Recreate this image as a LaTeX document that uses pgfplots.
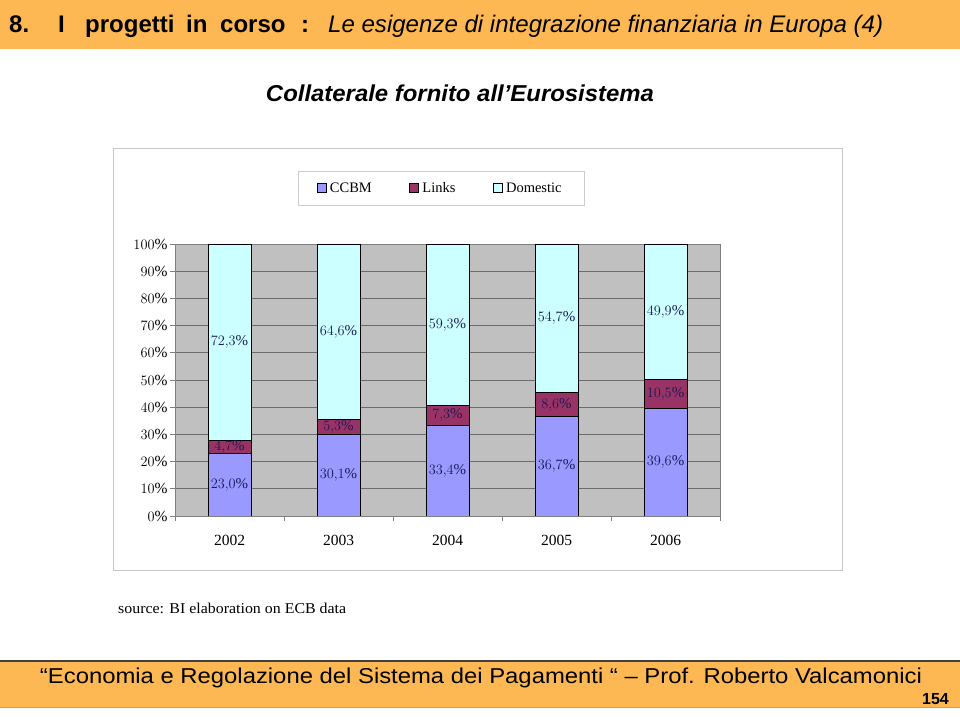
\documentclass[border=0pt]{standalone}
\usepackage{pgfplots}
\pgfplotsset{compat=1.18}
\usepackage{fontspec}
\setmainfont{Liberation Serif}
\newfontfamily\arial{Liberation Sans}
\definecolor{hdr}{HTML}{FDB853}
\definecolor{ccbm}{HTML}{9999FF}
\definecolor{links}{HTML}{993366}
\definecolor{dom}{HTML}{CCFFFF}
\definecolor{plotbg}{HTML}{C0C0C0}
\definecolor{lbl}{HTML}{1A1A55}
\newcommand{\fs}[1]{\fontsize{#1bp}{#1bp}\selectfont}
\begin{document}
\begin{tikzpicture}[x=1bp,y=1bp]
\path[use as bounding box] (0,0) rectangle (960,720);
\fill[white] (0,0) rectangle (960,720);
% header band
\fill[hdr] (0,671) rectangle (960,720);
\node[anchor=base west, inner sep=0] at (9,687) {\arial\bfseries\fs{24}8.};
\node[anchor=base west, inner sep=0] at (58,687) {\arial\bfseries\fs{24}I};
\node[anchor=base west, inner sep=0] at (85,687) {\arial\bfseries\fs{24}progetti};
\node[anchor=base west, inner sep=0] at (186,687) {\arial\bfseries\fs{24}in};
\node[anchor=base west, inner sep=0] at (220,687) {\arial\bfseries\fs{24}corso};
\node[anchor=base west, inner sep=0] at (301,687) {\arial\bfseries\fs{24}:};
\node[anchor=base west, inner sep=0] at (328,687) {\resizebox{555bp}{\height}{\arial\itshape\fs{24}Le esigenze di integrazione finanziaria in Europa (4)}};
% title
\node[anchor=base, inner sep=0] at (460,618) {\resizebox{388bp}{\height}{\arial\bfseries\itshape\fs{23}Collaterale fornito all’Eurosistema}};
% chart box
\draw[gray!45, line width=1bp] (113,149) rectangle (842,571);
% source
\node[anchor=base west, inner sep=0] at (118,106) {\resizebox{228bp}{\height}{\fs{15}source: BI elaboration on ECB data}};
% footer band
\fill[hdr] (0,12) rectangle (960,59);
\draw[black!75, line width=1.2bp] (0,59) -- (960,59);
\draw[gray!70, line width=1bp] (0,12) -- (960,12);
\node[anchor=base, inner sep=0] at (481,36) {\resizebox{882bp}{\height}{\arial\fs{21.5}“Economia e Regolazione del Sistema dei Pagamenti “ – Prof. Roberto Valcamonici}};
\node[anchor=base east, inner sep=0] at (949,15) {\arial\bfseries\fs{16}154};
\begin{axis}[
  at={(175bp,204bp)}, anchor=south west,
  scale only axis, width=545bp, height=272bp,
  xmin=-0.5, xmax=4.5, ymin=0, ymax=100,
  ybar stacked, bar width=43bp,
  axis background/.style={fill=plotbg},
  axis line style={draw=gray},
  ytick={0,10,...,100},
  yticklabel={\pgfmathprintnumber{\tick}\%},
  xtick={0,1,2,3,4},
  xticklabels={2002,2003,2004,2005,2006},
  minor xtick={-0.5,0.5,1.5,2.5,3.5,4.5},
  tick align=outside, tick pos=left,
  major tick length=5bp, minor tick length=5bp,
  every major x tick/.append style={draw=none},
  tick style={gray, line width=0.8bp},
  ymajorgrids,
  grid style={draw=gray!85!black, line width=0.8bp},
  tick label style={font=\fs{15.5}},
  yticklabel style={xshift=1bp},
  xticklabel style={yshift=-11bp},
  legend style={at={(0.488,1.206)}, anchor=center, draw=gray!40, fill=white,
    font=\fs{14.5}, legend columns=3, inner xsep=19bp, inner ysep=9bp,
    /tikz/every even column/.append style={column sep=34bp},
    nodes={inner xsep=3.5bp}},
  legend image code/.code={\draw[#1, draw=black, line width=0.6bp] (0bp,-4bp) rectangle (9bp,5bp);},
  nodes near coords={\pgfmathprintnumber[fixed, fixed zerofill, precision=1, use comma]{\pgfplotspointmeta}\%},
  point meta=explicit,
  every node near coord/.append style={font=\fs{15}, text=lbl, anchor=center},
]
\addplot[fill=ccbm, draw=black, line width=0.9bp] coordinates {(0,23.0) [23.0] (1,30.1) [30.1] (2,33.4) [33.4] (3,36.7) [36.7] (4,39.6) [39.6]};
\addlegendentry{CCBM}
\addplot[fill=links, draw=black, line width=0.9bp] coordinates {(0,4.7) [4.7] (1,5.3) [5.3] (2,7.3) [7.3] (3,8.6) [8.6] (4,10.5) [10.5]};
\addlegendentry{Links}
\addplot[fill=dom, draw=black, line width=0.9bp] coordinates {(0,72.3) [72.3] (1,64.6) [64.6] (2,59.3) [59.3] (3,54.7) [54.7] (4,49.9) [49.9]};
\addlegendentry{Domestic}
\end{axis}
\end{tikzpicture}
\end{document}
